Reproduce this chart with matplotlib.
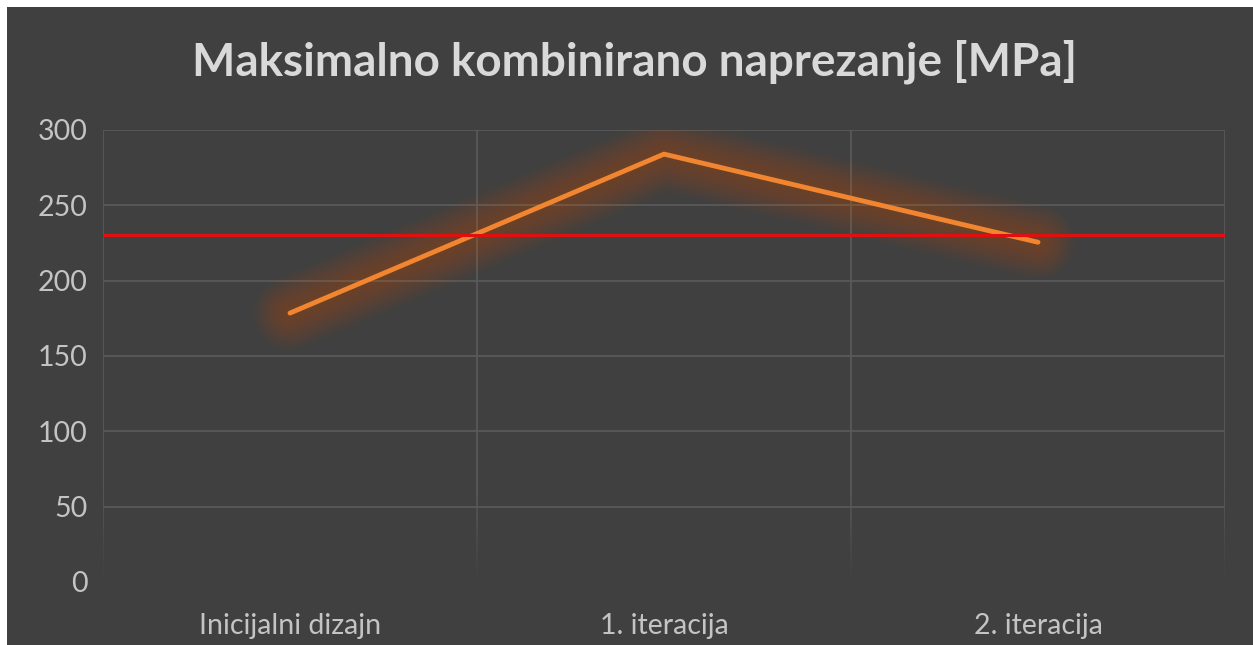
import matplotlib
matplotlib.use("Agg")
import matplotlib.pyplot as plt
from matplotlib.patches import Rectangle
import numpy as np

categories = ["Inicijalni dizajn", "1. iteracija", "2. iteracija"]
stress_mpa = [178.5, 284, 225.5]
limit_mpa = 230
y_ticks = [0, 50, 100, 150, 200, 250, 300]

bg = "#404040"
grid = "#595959"
text_col = "#C4C4C4"
orange = "#F2852F"

plt.rcParams["font.family"] = ["Lato", "DejaVu Sans"]

fig = plt.figure(figsize=(12.53, 6.45), dpi=100, facecolor="white")
fig.add_artist(Rectangle((7 / 1253, 0), 1, 1 - 7 / 645, transform=fig.transFigure,
                         facecolor=bg, edgecolor="none", zorder=-10))

ax = fig.add_axes([103 / 1253, 1 - 582 / 645, 1122 / 1253, 452 / 645])
ax.set_facecolor("none")
x = np.arange(len(categories))
ax.set_xlim(-0.5, len(categories) - 0.5)
ax.set_ylim(0, 300)

# horizontal grid (no line at zero)
for yv in y_ticks[1:]:
    ax.axhline(yv, color=grid, lw=1.3, zorder=1)

# vertical category separators, fading out towards the bottom
for xv in np.arange(-0.5, len(categories), 1.0):
    ax.plot([xv, xv], [60, 300], color=grid, lw=1.3, zorder=1)
    steps = np.linspace(60, 3, 12)
    for i in range(len(steps) - 1):
        a = 1 - (i + 1) / len(steps)
        ax.plot([xv, xv], [steps[i], steps[i + 1]], color=grid, lw=1.3,
                alpha=a, zorder=1, solid_capstyle="butt")

# soft glow under the series line
for w in np.arange(54, 6, -2):
    ax.plot(x, stress_mpa, color="#E07828", lw=w, alpha=0.014,
            solid_capstyle="round", solid_joinstyle="round", zorder=2)
ax.plot(x, stress_mpa, color=orange, lw=3.5, solid_capstyle="round",
        solid_joinstyle="round", zorder=3)

ax.axhline(limit_mpa, color="#E01010", lw=2.2, zorder=4)

for s in ax.spines.values():
    s.set_visible(False)
ax.set_yticks(y_ticks)
ax.set_yticklabels([str(v) for v in y_ticks])
ax.set_xticks(x)
ax.set_xticklabels(categories)
ax.tick_params(axis="both", length=0, colors=text_col, labelsize=20.5)
ax.tick_params(axis="y", pad=11)
ax.tick_params(axis="x", pad=22)

fig.text(634 / 1253, 1 - 62 / 645, "Maksimalno kombinirano naprezanje [MPa]",
         ha="center", va="center", fontsize=33, fontweight="bold", color="#D9D9D9")

fig.savefig("out.png", dpi=100, facecolor="white")
